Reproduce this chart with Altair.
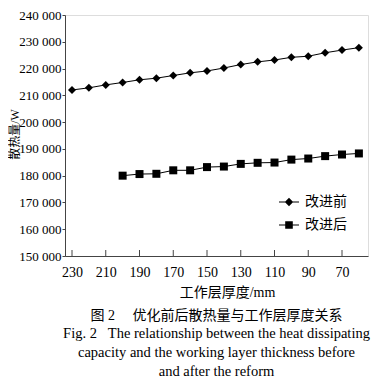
import altair as alt
import pandas as pd

# Data
thick_before = [230, 220, 210, 200, 190, 180, 170, 160, 150, 140, 130, 120, 110, 100, 90, 80, 70, 60]
heat_before = [212000, 212800, 213900, 214800, 215800, 216400, 217400, 218400, 219100,
               220200, 221500, 222500, 223200, 224200, 224600, 225900, 226900, 227800]
thick_after = [200, 190, 180, 170, 160, 150, 140, 130, 120, 110, 100, 90, 80, 70, 60]
heat_after = [180000, 180600, 180700, 182000, 182000, 183200, 183400, 184400, 184800,
              184900, 186000, 186400, 187300, 187900, 188300]
series_names = ["改进前", "改进后"]
x_ticks = [230, 210, 190, 170, 150, 130, 110, 90, 70]
y_ticks = [150000, 160000, 170000, 180000, 190000, 200000, 210000, 220000, 230000, 240000]

df = pd.DataFrame({
    "thick": thick_before + thick_after,
    "heat": heat_before + heat_after,
    "series": [series_names[0]] * len(thick_before) + [series_names[1]] * len(thick_after),
})
ticks_df = pd.DataFrame({"t": x_ticks})

SERIF = "Liberation Serif, Noto Sans CJK SC"
AXC = "#444444"

xscale = alt.Scale(domain=[54.6, 234.15], reverse=True, nice=False, zero=False)
yscale = alt.Scale(domain=[150000, 240000], nice=False, zero=False)

xaxis = alt.Axis(values=x_ticks, title="工作层厚度/mm", ticks=False, grid=False,
                 labelFont=SERIF, labelFontSize=14, labelColor="black", labelPadding=9,
                 domainColor=AXC, titleFont=SERIF, titleFontSize=14, titleFontWeight="normal",
                 titleColor="black", titleX=162, titleY=36, titleBaseline="middle",
                 titleAlign="center")
yaxis = alt.Axis(values=y_ticks, title="散热量/W", grid=False, tickSize=3, tickColor=AXC,
                 labelExpr="replace(format(datum.value, ','), ',', ' ')",
                 labelFont=SERIF, labelFontSize=13, labelColor="black", labelPadding=1,
                 domainColor=AXC, titleFont=SERIF, titleFontSize=12, titleFontWeight="normal",
                 titleColor="black", titleX=-51, titleY=119, titleBaseline="middle",
                 titleAlign="center", titleAngle=270)

x = alt.X("thick:Q", scale=xscale, axis=xaxis)
y = alt.Y("heat:Q", scale=yscale, axis=yaxis)

lines = alt.Chart(df).mark_line(color="black", strokeWidth=1).encode(x=x, y=y, detail="series:N")

points = alt.Chart(df).mark_point(filled=True, color="black", opacity=1, size=64).encode(
    x=x, y=y,
    shape=alt.Shape("series:N", sort=series_names,
                    scale=alt.Scale(domain=series_names, range=["diamond", "square"]), legend=None),
)

# legend symbols: a thin bar (line) plus the marker, all filled
diamond_path = "M-1,-0.05L1,-0.05L1,0.05L-1,0.05ZM0,-0.42L0.42,0L0,0.42L-0.42,0Z"
square_path = "M-1,-0.05L1,-0.05L1,0.05L-1,0.05ZM-0.38,-0.38L0.38,-0.38L0.38,0.38L-0.38,0.38Z"

legend_layer = alt.Chart(df).mark_point(filled=True, color="black", opacity=0).encode(
    x=x, y=y,
    shape=alt.Shape("series:N", sort=series_names,
                    scale=alt.Scale(domain=series_names, range=[diamond_path, square_path]),
                    legend=alt.Legend(title=None, orient="none", legendX=213, legendY=176,
                                      symbolSize=400, symbolOpacity=1, symbolFillColor="black",
                                      labelFont=SERIF, labelFontSize=14, labelColor="black",
                                      labelOffset=5, rowPadding=4, padding=0)),
)

inner_ticks = alt.Chart(ticks_df).mark_rule(color=AXC, strokeWidth=1).encode(
    x=alt.X("t:Q", scale=xscale, axis=xaxis),
    y=alt.value(241), y2=alt.value(235),
)

chart = alt.layer(lines, points, legend_layer, inner_ticks).resolve_scale(
    shape="independent"
).properties(
    width=303, height=241,
    autosize=alt.AutoSizeParams(type="none"),
    padding={"left": 57, "top": 7, "right": 9, "bottom": 124},
    title=alt.TitleParams(
        text="图\u00a02\u3000\u00a0优化前后散热量与工作层厚度关系",
        subtitle=["Fig.\u00a02\u00a0\u00a0\u00a0The relationship between the heat dissipating",
                  "capacity and the working layer thickness before",
                  "and after the reform"],
        orient="bottom", anchor="middle", offset=10,
        font=SERIF, fontSize=14, fontWeight="normal", color="black",
        subtitleFont=SERIF, subtitleFontSize=14.5, subtitleColor="black",
        subtitleLineHeight=19, subtitlePadding=4,
    ),
).configure_view(stroke=AXC, strokeWidth=1).configure_axis(
    labelFont=SERIF, titleFont=SERIF
).configure_legend(labelFont=SERIF).configure(background="white")

chart.save("out.html", embed_options={"renderer": "svg", "actions": False})
